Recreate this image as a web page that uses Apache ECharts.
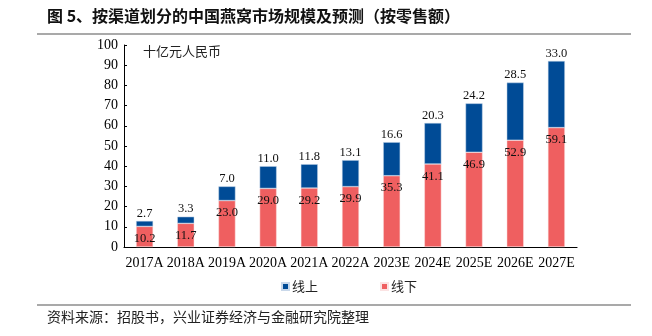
<!DOCTYPE html>
<html><head><meta charset="utf-8">
<script src="https://cdn.jsdelivr.net/npm/echarts@6/dist/echarts.min.js"></script>
<style>html,body{margin:0;padding:0;background:#fff}#c{width:652px;height:336px}</style>
</head><body><div id="c"></div>
<script>
var categories = ['2017A','2018A','2019A','2020A','2021A','2022A','2023E','2024E','2025E','2026E','2027E'];
var offline = [10.2, 11.7, 23.0, 29.0, 29.2, 29.9, 35.3, 41.1, 46.9, 52.9, 59.1];
var online = [2.7, 3.3, 7.0, 11.0, 11.8, 13.1, 16.6, 20.3, 24.2, 28.5, 33.0];
var yTicks = [0, 10, 20, 30, 40, 50, 60, 70, 80, 90, 100];
var titleText = '图 5、按渠道划分的中国燕窝市场规模及预测（按零售额）';
var unitText = '十亿元人民币';
var sourceText = '资料来源：招股书，兴业证券经济与金融研究院整理';

var serif = '"Liberation Serif","Times New Roman",serif';
var cjk = '"Noto Sans CJK SC",sans-serif';
var chart = echarts.init(document.getElementById('c'));
chart.setOption({
  animation: false,
  backgroundColor: '#fff',
  grid: {left: 124, top: 45, right: 75, bottom: 89},
  graphic: [
    {type: 'text', left: 47, top: 8, style: {text: titleText, font: 'bold 16px ' + cjk, fill: '#111'}},
    {type: 'line', shape: {x1: 37, y1: 34, x2: 631, y2: 34}, style: {stroke: '#555', lineWidth: 1.2}},
    {type: 'text', left: 143, top: 45, style: {text: unitText, font: '13px ' + cjk, fill: '#222'}},
    {type: 'line', shape: {x1: 37, y1: 305, x2: 631, y2: 305}, style: {stroke: '#555', lineWidth: 1.2}},
    {type: 'text', left: 47, top: 310, style: {text: sourceText, font: '14px ' + cjk, fill: '#222'}}
  ],
  legend: {
    data: ['线上', '线下'],
    top: 275, left: 276,
    itemWidth: 7, itemHeight: 7, itemGap: 62,
    icon: 'rect',
    textStyle: {fontFamily: cjk, fontSize: 13, color: '#222', padding: [0,0,0,-2]}
  },
  xAxis: {
    type: 'category', data: categories,
    axisLine: {lineStyle: {color: '#000', width: 1.2}},
    axisTick: {show: false},
    axisLabel: {fontFamily: serif, fontSize: 14, color: '#000', margin: 9, interval: 0}
  },
  yAxis: {
    type: 'value', min: 0, max: 100, interval: 10,
    axisLine: {show: true, lineStyle: {color: '#000', width: 1}},
    axisTick: {show: true, inside: true, length: 3, lineStyle: {color: '#000'}},
    splitLine: {show: false},
    axisLabel: {fontFamily: serif, fontSize: 14, color: '#000', margin: 6,
      formatter: function (v) { return yTicks.indexOf(v) >= 0 ? String(v) : ''; }}
  },
  series: [
    {name: '线下', type: 'bar', stack: 's', data: offline, barWidth: 17,
      itemStyle: {color: '#EF5F60', borderColor: '#fbe3e3', borderWidth: 0.5},
      label: {show: true, position: 'insideTop', distance: 6, fontFamily: serif, fontSize: 12.5, color: '#111',
        formatter: function (p) { return p.value.toFixed(1); }}},
    {name: '线上', type: 'bar', stack: 's', data: online, barWidth: 17,
      itemStyle: {color: '#004B96', borderColor: '#c9d8ea', borderWidth: 0.5},
      label: {show: true, position: 'top', distance: 1, fontFamily: serif, fontSize: 12.5, color: '#111',
        formatter: function (p) { return p.value.toFixed(1); }}}
  ]
});
</script></body></html>
